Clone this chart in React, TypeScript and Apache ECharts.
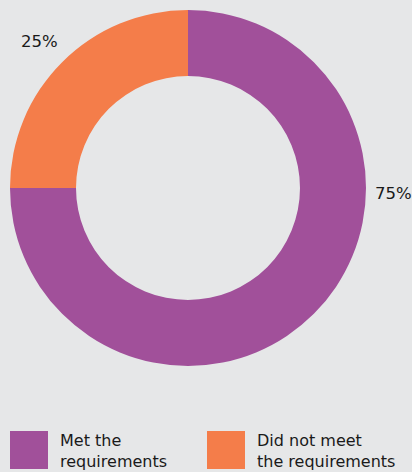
import React, { useEffect, useRef } from "react";
import * as echarts from "echarts";

const categories = ["Met the\nrequirements", "Did not meet\nthe requirements"];
const values = [75, 25];
const colors = ["#a1509a", "#f47d4a"];

export default function App() {
  const ref = useRef<HTMLDivElement>(null);
  useEffect(() => {
    const chart = echarts.init(ref.current!, null, { renderer: "svg" });
    const total = values.reduce((a, b) => a + b, 0);
    const pct = values.map((v) => Math.round((v / total) * 100) + "%");
    const font = "'DejaVu Sans', 'Noto Sans', sans-serif";
    const legendX = [10, 207];
    const legendGraphics: any[] = [];
    categories.forEach((name, i) => {
      legendGraphics.push({
        type: "rect",
        shape: { x: legendX[i], y: 431, width: 38, height: 38 },
        style: { fill: colors[i] },
      });
      legendGraphics.push({
        type: "text",
        x: legendX[i] + 50,
        y: 451,
        style: {
          text: name,
          fontFamily: font,
          fontSize: 16,
          lineHeight: 21,
          fill: "#1a1a1a",
          verticalAlign: "middle",
          align: "left",
        },
      });
    });
    chart.setOption({
      animation: false,
      backgroundColor: "#e6e7e8",
      color: colors,
      graphic: [
        ...legendGraphics,
        {
          type: "text",
          left: 375,
          top: 185,
          style: { text: pct[0], fontFamily: font, fontSize: 16.5, fill: "#1a1a1a" },
        },
        {
          type: "text",
          left: 21,
          top: 33,
          style: { text: pct[1], fontFamily: font, fontSize: 16.5, fill: "#1a1a1a" },
        },
      ],
      series: [
        {
          type: "pie",
          center: [188, 188],
          radius: [112, 178],
          startAngle: 90,
          clockwise: true,
          label: { show: false },
          labelLine: { show: false },
          emphasis: { disabled: true },
          itemStyle: { borderWidth: 0 },
          data: categories.map((name, i) => ({ name, value: values[i] })),
        },
      ],
    });
    return () => chart.dispose();
  }, []);
  return <div ref={ref} style={{ width: 412, height: 472, position: "absolute", left: 0, top: 0 }} />;
}
